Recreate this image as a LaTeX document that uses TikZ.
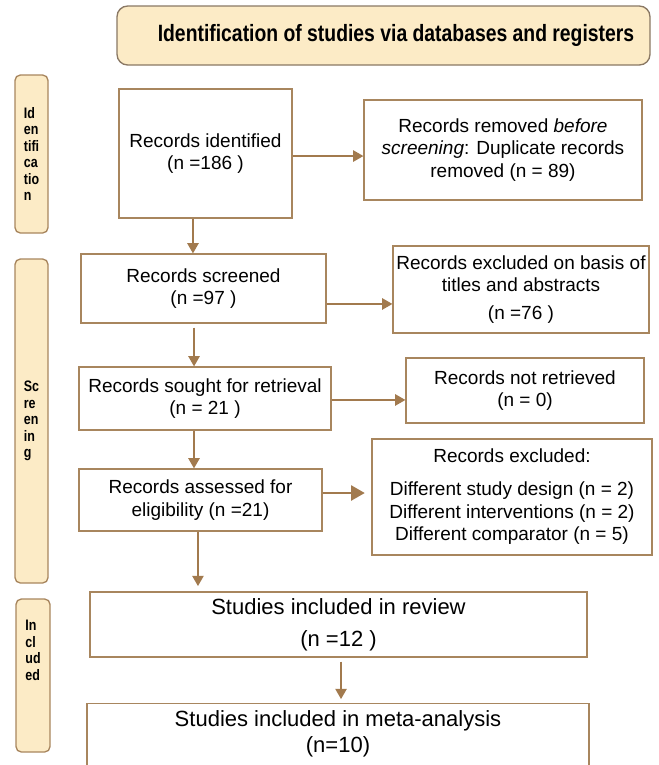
\documentclass[tikz,border=0pt]{standalone}
\usepackage{fontspec}
\setmainfont{Liberation Sans}
\newfontfamily\narrowsans[FakeStretch=0.82]{Liberation Sans}
\usetikzlibrary{arrows}

\definecolor{beige}{HTML}{FCEBC6}
\definecolor{boxline}{HTML}{A8865E}
\definecolor{titleline}{HTML}{8A7864}
\definecolor{arrowc}{HTML}{A27A4E}

\begin{document}
\begin{tikzpicture}[x=0.75pt,y=-0.75pt]
    \tikzstyle{box}=[rectangle,draw=boxline,line width=1pt,fill=white,inner sep=2pt,align=center,font=\fontsize{14.25}{17}\selectfont]
    \tikzstyle{big}=[box,font=\fontsize{16.5}{19.8}\selectfont]
    \tikzstyle{side}=[rectangle,rounded corners=4pt,draw=boxline,line width=1pt,fill=beige,inner sep=0pt,align=left,font=\narrowsans\bfseries\fontsize{11.4}{12.4}\selectfont]
    \tikzstyle{edge}=[draw=arrowc,line width=1.1pt,-triangle 60]

    \clip (0,0) rectangle (659,765);
    \fill[white] (0,0) rectangle (659,765);

    % header
    \node[rectangle,rounded corners=8pt,draw=titleline,line width=1pt,fill=beige,
          minimum width=399.75pt,minimum height=44.25pt,
          font=\narrowsans\bfseries\fontsize{17.7}{19}\selectfont] (title) at (383.5,35.5)
          {\hspace*{18.75pt}Identification of studies via databases and registers};

    % phase labels
    \node[side,minimum width=24.75pt,minimum height=118.5pt] (sid)  at (31.5,154) {Id\\en\\tifi\\ca\\tio\\n};
    \node[side,minimum width=24.75pt,minimum height=243pt]   (sscr) at (31.5,421) {Sc\\re\\en\\in\\g};
    \node[side,minimum width=25.5pt,minimum height=114.75pt,text depth=38pt] (sinc) at (33,675.5) {In\\cl\\ud\\ed};

    % boxes
    \node[box,minimum width=129.75pt,minimum height=96.75pt] (ident)     at (205.5,153.5) {Records identified\\(n =186 )};
    \node[box,minimum width=208.5pt,minimum height=75pt]     (removed)   at (503,150)     {Records removed \emph{before}\\\emph{screening}: Duplicate records\\removed (n = 89)};
    \node[box,minimum width=183.75pt,minimum height=51.75pt] (screened)  at (203.5,288.5) {Records screened\\(n =97 )};
    \node[box,minimum width=192pt,minimum height=65.25pt]    (exclbasis) at (521,289.5)   {Records excluded on basis of\\titles and abstracts\\[4pt](n =76 )};
    \node[box,minimum width=189pt,minimum height=47.25pt]    (sought)    at (205,398.5)   {Records sought for retrieval\\(n = 21 )};
    \node[box,minimum width=178.5pt,minimum height=48.75pt]  (notret)    at (525,390.5)   {Records not retrieved\\(n = 0)};
    \node[box,minimum width=182.25pt,minimum height=46.5pt]  (assessed)  at (200.5,500)   {Records assessed for\\eligibility (n =21)};
    \node[box,minimum width=210pt,minimum height=87pt]       (exclrec)   at (512,497)     {Records excluded:\\[7.5pt]Different study design (n = 2)\\Different interventions (n = 2)\\Different comparator (n = 5)};
    \node[big,minimum width=372.75pt,minimum height=48.75pt] (review)    at (338.5,624.5) {Studies included in review\\[4pt](n =12 )};
    \node[big,minimum width=376.5pt,anchor=north,inner ysep=5pt,text depth=60pt] (meta) at (338,703) {Studies included in meta-analysis\\(n=10)};

    % arrows
    \path[edge] ([yshift=-1.9pt]ident.east) -- ([yshift=-1.9pt]ident.east -| removed.west);
    \path[edge] ([xshift=-9.4pt]ident.south) -- ([xshift=-9.4pt]ident.south |- screened.north);

    \path[edge] ([yshift=-11.6pt]screened.east) -- ([yshift=-11.6pt]screened.east -| exclbasis.west);
    \path[edge,shorten <=3pt] ([xshift=-7.1pt]screened.south) -- ([xshift=-7.1pt]screened.south |- sought.north);

    \path[edge] ([yshift=-1.1pt]sought.east) -- ([yshift=-1.1pt]sought.east -| notret.west);
    \path[edge] ([xshift=-8.25pt]sought.south) -- ([xshift=-8.25pt]sought.south |- assessed.north);

    \path[edge,line width=1.8pt,shorten >=5pt] ([yshift=5.25pt]assessed.east) -- ([yshift=5.25pt]assessed.east -| exclrec.west);
    \path[edge,shorten >=4pt] ([xshift=-1.9pt]assessed.south) -- ([xshift=-1.9pt]assessed.south |- review.north);

    \path[edge,shorten <=3pt,shorten >=3pt] ([xshift=1.9pt]review.south) -- ([xshift=1.9pt]review.south |- meta.north);
\end{tikzpicture}
\end{document}
